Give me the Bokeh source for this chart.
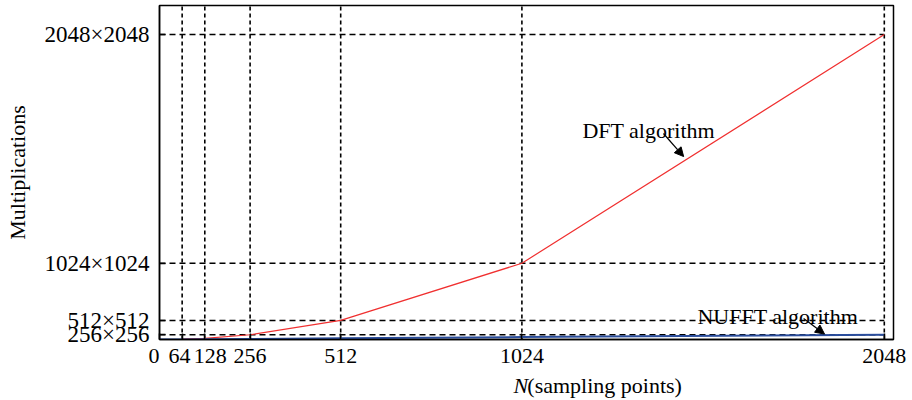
import math
from bokeh.plotting import figure
from bokeh.layouts import column
from bokeh.models import (Range1d, FixedTicker, Label, Arrow, NormalHead)
from bokeh.embed import file_html
from bokeh.resources import INLINE

# ---- data ----
n_points = [64, 128, 256, 512, 1024, 2048]
dft_mults = [4096, 16384, 65536, 262144, 1048576, 4194304]
nufft_n = [0, 64, 128, 256, 512, 1024, 2048]
nufft_mults = [0, 1500, 3300, 7200, 15500, 33000, 66000]

x_ticks = [0, 64, 128, 256, 512, 1024, 2048]
x_tick_labels = ["0\u00a0\u00a0", "64\u00a0", "\u00a0\u00a0128", "256", "512", "1024", "2048"]
y_ticks = [65536, 262144, 1048576, 4194304]
y_tick_labels = ["256×256", "512×512", "1024×1024", "2048×2048"]
guide_x = [64, 128, 256, 512, 1024, 2048]
guide_y = [65536, 262144, 1048576, 4194304]

FONT = "Liberation Serif"

p = figure(width=912, height=370, output_backend="svg", toolbar_location=None,
           x_range=Range1d(0, 2074), y_range=Range1d(0, 4.593e6),
           min_border_left=159, min_border_right=19, min_border_top=5, min_border_bottom=31,
           background_fill_color="white", border_fill_color="white")
p.grid.visible = False
p.outline_line_color = "black"
p.outline_line_width = 1.5

# guide lines
for gy in guide_y:
    p.line([0, 2048], [gy, gy], line_color="black", line_width=1.4, line_dash="6 4")
for gx in guide_x:
    p.line([gx, gx], [0, 4.593e6], line_color="black", line_width=1.6, line_dash="4 3")

# series
p.line(n_points, dft_mults, line_color="#f03030", line_width=1.2)
p.line(nufft_n, nufft_mults, line_color="#2a4d9c", line_width=2)

# axes
xa = p.xaxis[0]
xa.ticker = FixedTicker(ticks=x_ticks)
xa.major_label_overrides = {t: l for t, l in zip(x_ticks, x_tick_labels)}
xa.major_tick_in = 6
xa.major_tick_out = 0
xa.minor_tick_in = 0
xa.minor_tick_out = 0
xa.major_label_standoff = 3
xa.major_label_text_font = FONT
xa.major_label_text_font_size = "22px"
xa.major_label_text_color = "black"
xa.axis_line_color = "black"
xa.axis_line_width = 1.5
xa.major_tick_line_width = 1.5

ya = p.yaxis[0]
ya.ticker = FixedTicker(ticks=y_ticks)
ya.major_label_overrides = {t: l for t, l in zip(y_ticks, y_tick_labels)}
ya.major_tick_in = 6
ya.major_tick_out = 0
ya.minor_tick_in = 0
ya.minor_tick_out = 0
ya.major_label_standoff = 10
ya.major_label_text_font = FONT
ya.major_label_text_font_size = "23px"
ya.major_label_text_color = "black"
ya.axis_line_color = "black"
ya.axis_line_width = 1.5
ya.major_tick_line_width = 1.5
ya.axis_label = "Multiplications"
ya.axis_label_text_font = FONT
ya.axis_label_text_font_style = "normal"
ya.axis_label_text_font_size = "22px"
ya.axis_label_text_color = "black"
ya.axis_label_standoff = 12

# annotations
p.add_layout(Label(x=1195, y=2.874e6, text="DFT algorithm", text_font=FONT,
                   text_font_size="22px", text_color="black", text_baseline="alphabetic"))
p.add_layout(Arrow(x_start=1424, y_start=2.833e6, x_end=1481, y_end=2.516e6,
                   line_color="black", line_width=1.2,
                   end=NormalHead(size=9, fill_color="black", line_color="black")))
p.add_layout(Label(x=1520, y=316300, text="NUFFT algorithm", text_font=FONT,
                   text_font_size="22px", text_color="black", text_baseline="alphabetic"))
p.add_layout(Arrow(x_start=1820, y_start=288800, x_end=1879, y_end=75600,
                   line_color="black", line_width=1.2,
                   end=NormalHead(size=9, fill_color="black", line_color="black")))

# strip below the chart carrying the x-axis title (italic N + roman rest)
q = figure(width=912, height=30, output_backend="svg", toolbar_location=None,
           x_range=Range1d(0, 912), y_range=Range1d(0, 30),
           min_border_left=0, min_border_right=0, min_border_top=0, min_border_bottom=0,
           background_fill_color="white", border_fill_color="white")
q.axis.visible = False
q.grid.visible = False
q.outline_line_color = None
q.add_layout(Label(x=440, y=15, text="N", text_font=FONT, text_font_style="italic",
                   text_font_size="22px", text_color="black", text_baseline="alphabetic"))
q.add_layout(Label(x=457, y=15, text="(sampling points)", text_font=FONT,
                   text_font_size="22px", text_color="black", text_baseline="alphabetic"))

open("out.html", "w").write(file_html(column(p, q, spacing=0), INLINE))
